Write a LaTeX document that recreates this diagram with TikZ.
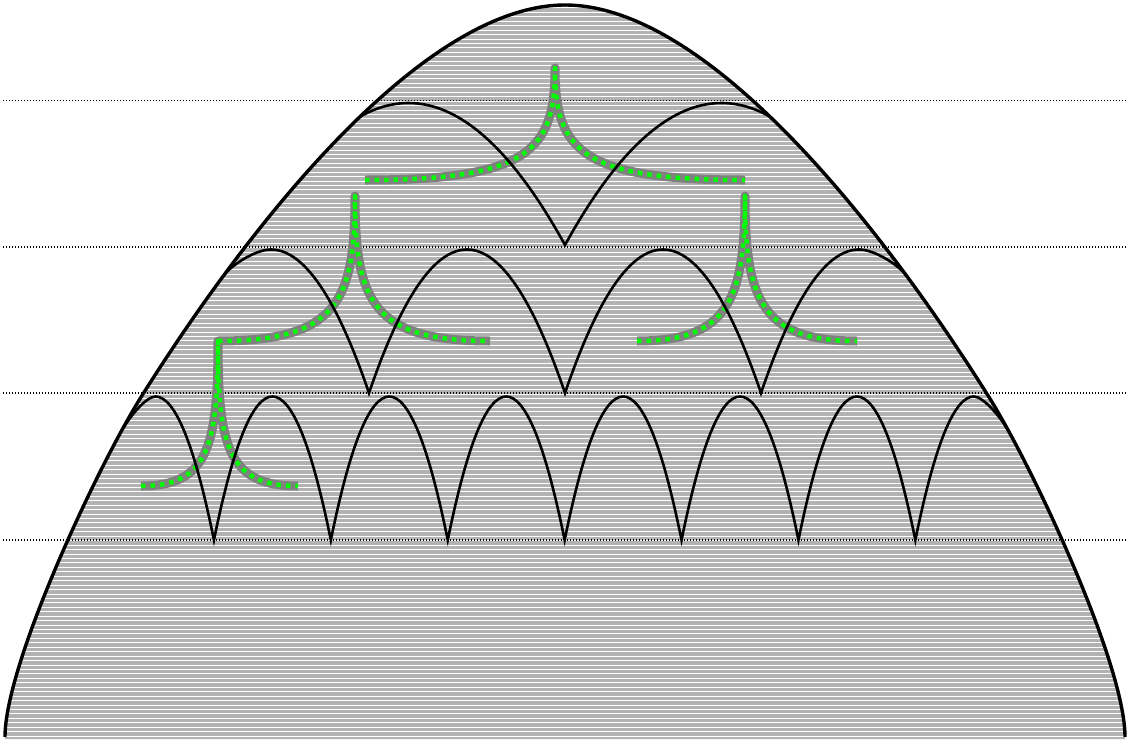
\documentclass[tikz,border=0pt]{standalone}
\begin{document}
\begin{tikzpicture}[x=1pt,y=-1pt,
  outerline/.style={line width=3.4pt,black},
  archline/.style={line width=2.6pt,black,line join=miter,miter limit=20},
  levelline/.style={line width=1.2pt,black,dash pattern=on 1.2pt off 1.8pt},
  treebase/.style={line width=9pt,gray,line join=round,line cap=butt},
  treedots/.style={line width=4.5pt,green,line join=round,dash pattern=on 4.5pt off 5pt}]
\useasboundingbox (0,0) rectangle (1128,742);
\coordinate (BL) at (5,737); \coordinate (ML) at (142.2,395.2);
\coordinate (TOP) at (565,5);
\coordinate (MR) at (987.8,395.2); \coordinate (BR) at (1125,737);
% outer region
\fill[gray!60] (5,739) -- (BL) .. controls (5,663.8) and (97.4,466.3) .. (ML)
  .. controls (254.2,217.3) and (425,5) .. (TOP)
  .. controls (705,5) and (875.8,217.3) .. (MR)
  .. controls (1032.6,466.3) and (1125,663.8) .. (BR) -- (1125,739) -- cycle;
\begin{scope}
\clip (5,739) -- (BL) .. controls (5,663.8) and (97.4,466.3) .. (ML)
  .. controls (254.2,217.3) and (425,5) .. (TOP)
  .. controls (705,5) and (875.8,217.3) .. (MR)
  .. controls (1032.6,466.3) and (1125,663.8) .. (BR) -- (1125,739) -- cycle;
\foreach \y in {3.5,7.94,...,742} \draw[white,line width=1pt] (0,\y) -- (1128,\y);
\end{scope}
% level lines
\foreach \y/\n in {100.5/a,247/b,393/c,540/d}{
  \coordinate (L\n) at (3,\y);
  \coordinate (R\n) at (1128,\y);
  \draw[levelline] (L\n) -- (R\n);
}
\begin{scope}
\clip (5,739) -- (BL) .. controls (5,663.8) and (97.4,466.3) .. (ML)
  .. controls (254.2,217.3) and (425,5) .. (TOP)
  .. controls (705,5) and (875.8,217.3) .. (MR)
  .. controls (1032.6,466.3) and (1125,663.8) .. (BR) -- (1125,739) -- cycle;
% trees
\coordinate (T1l) at (365,180); \coordinate (T1t) at (555,68); \coordinate (T1r) at (745,180);
\coordinate (T2l) at (218,341); \coordinate (T2t) at (355,196); \coordinate (T2r) at (490,341);
\coordinate (T3l) at (637,341); \coordinate (T3t) at (745,196); \coordinate (T3r) at (857,341);
\coordinate (T4l) at (141,486); \coordinate (T4t) at (218,341); \coordinate (T4r) at (298,486);
\foreach \s in {treebase,treedots}{
  \draw[\s] (T1l) .. controls (530,180) and (555,150) .. (T1t) .. controls (555,150) and (580,180) .. (T1r);
  \draw[\s] (T2l) .. controls (337,341) and (355,302) .. (T2t) .. controls (355,302) and (373,341) .. (T2r);
  \draw[\s] (T3l) .. controls (727,341) and (745,302) .. (T3t) .. controls (745,302) and (763,341) .. (T3r);
  \draw[\s] (T4l) .. controls (208,486) and (218,447) .. (T4t) .. controls (218,447) and (228,486) .. (T4r);
}
% arches (parabolic arcs that run into the outer curve)
\coordinate (A1l) at (352.16,121.4); \coordinate (A1r) at (777.84,121.4);
\coordinate (A2l) at (223.7,275.4);  \coordinate (A2r) at (906.3,275.4);
\coordinate (A3l) at (123.4,428);    \coordinate (A3r) at (1006.6,428);
% level 1
\draw[archline] (A1l) .. controls (370.94,109.13) and (389.72,103) .. (408.5,103)
  .. controls (460.67,103) and (512.83,150.33) .. (565,245)
  .. controls (617.17,150.33) and (669.33,103) .. (721.5,103)
  .. controls (740.28,103) and (759.06,109.13) .. (A1r);
% level 2
\draw[archline] (A2l) .. controls (230.8,265.7) and (255,249.5) .. (271,249.5)
  .. controls (303.67,249.5) and (336.33,297.33) .. (369,393)
  .. controls (434.33,201.67) and (499.67,201.67) .. (565,393)
  .. controls (630.33,201.67) and (695.67,201.67) .. (761,393)
  .. controls (793.67,297.33) and (826.33,249.5) .. (859,249.5)
  .. controls (875,249.5) and (899.2,265.7) .. (A2r);
% level 3
\draw[archline] (A3l) .. controls (128.2,419.2) and (145.5,396.5) .. (155.5,396.5)
  .. controls (174.98,396.5) and (194.47,444.33) .. (213.95,540)
  \foreach \k in {0,...,5}{ .. controls ({213.95+116.9*\k+38.97},348.67) and ({213.95+116.9*(\k+1)-38.97},348.67) .. ({213.95+116.9*(\k+1)},540)}
  .. controls (934.83,444.33) and (954.32,396.5) .. (973.8,396.5)
  .. controls (983.8,396.5) and (1001.8,419.2) .. (A3r);
\end{scope}
% outer curve
\draw[outerline] (BL) .. controls (5,663.8) and (97.4,466.3) .. (ML)
  .. controls (254.2,217.3) and (425,5) .. (TOP)
  .. controls (705,5) and (875.8,217.3) .. (MR)
  .. controls (1032.6,466.3) and (1125,663.8) .. (BR);
\end{tikzpicture}
\end{document}
